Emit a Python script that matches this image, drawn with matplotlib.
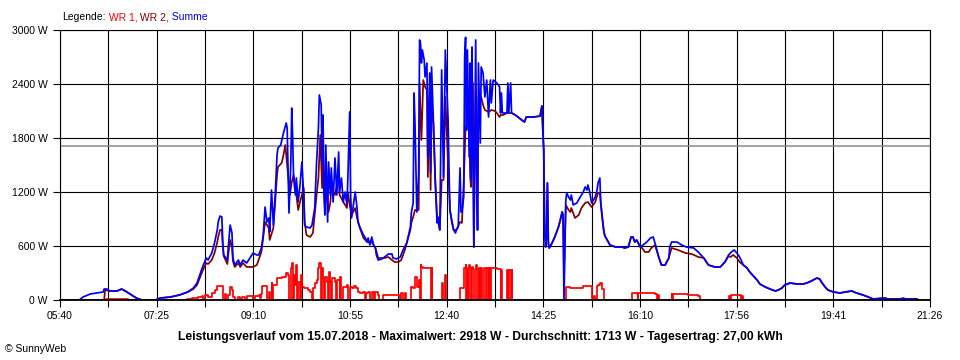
import matplotlib
matplotlib.use("Agg")
import matplotlib.pyplot as plt
import numpy as np

plt.rcParams['font.family'] = ['Liberation Sans', 'DejaVu Sans']

# ---------------- data (time in minutes since midnight, power in W) ----------------
T_START = 340    # 05:40
T_END = 1286     # 21:26
X_LABELS = ["05:40", "07:25", "09:10", "10:55", "12:40", "14:25", "16:10", "17:56", "19:41", "21:26"]
Y_TICKS = [0, 600, 1200, 1800, 2400, 3000]
AVERAGE_W = 1713
TITLE = ("Leistungsverlauf vom 15.07.2018 - Maximalwert: 2918 W - "
         "Durchschnitt: 1713 W - Tagesertrag: 27,00 kWh")
LEGEND_ITEMS = [(" WR 1,", '#ff0000'), (" WR 2,", '#800000'), (" Summe", '#0000ff')]

SUMME = [
    (340, 0), (361, 0), (365, 33), (373, 67), (380, 78), (387, 89), (388, 122), (391, 122), (394, 100),
    (402, 100), (407, 122), (411, 100), (416, 67), (423, 22), (429, 0),
    (444, 0), (449, 22), (460, 33), (470, 56), (479, 89), (485, 133), (489, 189), (492, 278), (495, 367),
    (499, 467), (501, 444), (505, 522), (508, 633), (511, 778), (512, 867), (514, 933), (516, 922),
    (517, 633), (518, 500), (522, 444), (523, 589), (525, 833), (527, 744), (528, 467), (530, 389),
    (534, 444), (536, 389), (539, 444), (543, 411), (550, 522), (554, 500),
    (556, 500), (559, 578), (561, 722), (563, 1033), (565, 867), (567, 911), (568, 756), (570, 1222),
    (572, 833), (574, 1167), (576, 1611), (577, 1689), (580, 1722), (583, 1856), (586, 1967), (587, 1911),
    (589, 967), (591, 1533), (592, 2133), (593, 1800), (594, 1356), (596, 1167), (597, 1356), (599, 1089),
    (601, 1278), (603, 1533), (605, 1167), (606, 833), (608, 811), (612, 800), (614, 833), (617, 1022),
    (619, 1533), (621, 1911), (622, 2278), (624, 2167), (625, 1533), (626, 2056), (627, 1167), (628, 944),
    (629, 1722), (631, 867), (632, 1533), (634, 1167), (635, 1467), (637, 1089), (639, 1578), (641, 1167),
    (643, 1644), (644, 1200), (646, 1356), (648, 1089), (650, 1200), (652, 1056), (653, 1356), (655, 2089),
    (656, 1167), (657, 911), (659, 1056), (661, 1200), (663, 1022), (664, 867), (666, 811), (670, 722),
    (672, 689), (674, 644), (675, 689), (677, 611), (679, 700), (681, 611), (683, 578), (684, 500),
    (686, 444),
    (690, 456), (693, 478), (697, 511), (701, 511), (702, 467), (706, 456), (710, 478), (713, 556),
    (717, 633), (721, 811), (722, 967), (724, 1078), (725, 2300), (726, 1967), (728, 978), (730, 1411),
    (731, 2889), (732, 2856), (733, 2633), (734, 2778), (736, 2667), (737, 2478), (739, 2633), (740, 1589),
    (742, 2522), (743, 1411), (744, 2589), (746, 2000), (748, 1333), (750, 856), (751, 922), (753, 778),
    (755, 2556), (757, 1367), (759, 2778), (760, 2522), (762, 2000), (763, 1444), (764, 1000), (766, 867),
    (768, 778), (770, 744), (771, 778), (773, 811), (775, 1467), (776, 978), (777, 978), (779, 1144),
    (780, 2700), (781, 2918), (782, 1889), (783, 2778), (785, 1589), (786, 2633), (787, 1333), (788, 2811),
    (789, 1778), (790, 589), (792, 2889), (793, 1522), (794, 778), (795, 2633), (797, 1744), (798, 2589),
    (800, 2522), (802, 2256), (804, 2444), (806, 2033), (808, 2444), (809, 2189), (811, 2444), (815, 2411),
    (818, 2367), (819, 2078), (820, 2300), (821, 2078), (826, 2078), (827, 2411), (828, 2078), (830, 2411),
    (831, 2078), (835, 2056), (838, 2033), (842, 2000), (845, 1978), (847, 2033), (855, 2033), (862, 2044),
    (864, 2156), (865, 1889), (866, 1667), (867, 778), (868, 589), (869, 700), (870, 1300), (871, 633),
    (872, 578), (875, 633), (878, 700), (882, 811), (884, 889), (886, 978), (887, 944), (888, 0),
    (890, 1111), (891, 1189), (893, 1144), (895, 1111), (896, 1167), (898, 1056), (902, 1078), (905, 1133),
    (909, 1200), (911, 1256), (913, 1222), (914, 1278), (916, 1200), (918, 1078), (920, 1111), (922, 1144),
    (924, 1222), (925, 1300), (927, 1356), (928, 1078), (930, 889), (932, 722), (935, 667), (938, 611),
    (944, 589), (951, 589), (954, 578), (958, 589), (961, 700), (963, 700), (965, 644), (967, 667),
    (971, 589), (974, 611), (978, 644), (982, 689), (985, 700), (987, 633), (991, 478), (994, 389),
    (998, 389), (1002, 467), (1003, 589), (1005, 644), (1011, 644), (1016, 611), (1021, 589), (1029, 578),
    (1034, 533), (1040, 467), (1045, 389), (1052, 367), (1058, 367), (1063, 422), (1067, 500), (1070, 533),
    (1073, 556), (1076, 522), (1079, 478), (1083, 389), (1087, 356), (1090, 311), (1094, 267), (1098, 222),
    (1101, 178), (1107, 144), (1112, 122), (1118, 100), (1121, 111), (1125, 133), (1128, 167), (1134, 189),
    (1141, 178), (1148, 178), (1152, 189), (1157, 211), (1163, 244), (1166, 233), (1168, 200), (1172, 144),
    (1175, 111), (1181, 89), (1188, 78), (1194, 89), (1201, 100), (1206, 78), (1213, 56), (1219, 33),
    (1224, 11), (1237, 22), (1240, 11), (1253, 11), (1257, 22), (1259, 11), (1272, 11), (1273, 0),
]

WR2 = [
    (340, 0), (388, 0), (389, 111), (394, 100), (402, 100), (407, 122), (411, 100), (416, 67), (423, 22),
    (429, 0),
    (444, 0), (449, 22), (460, 33), (470, 56), (479, 89), (485, 122), (489, 167), (492, 244), (495, 322),
    (499, 411), (501, 400), (505, 444), (508, 522), (511, 644), (512, 700), (514, 778), (516, 778),
    (517, 600), (518, 489), (522, 400), (523, 511), (525, 667), (527, 589), (528, 433), (530, 367),
    (534, 411), (536, 367), (539, 411), (543, 367), (550, 367), (554, 389),
    (559, 533), (563, 867), (567, 800), (568, 667), (572, 800), (576, 1389), (577, 1478), (581, 1522),
    (583, 1611), (585, 1722), (588, 1389), (590, 1167), (592, 1311), (594, 1389), (596, 1278), (597, 1167),
    (599, 1000), (601, 1089), (605, 1244), (606, 867), (608, 722), (612, 700), (615, 744), (619, 1167),
    (621, 1356), (623, 1833), (625, 1244), (626, 1533), (628, 1056), (630, 1200), (632, 978), (634, 1089),
    (635, 1244), (639, 1167), (643, 1389), (644, 1167), (648, 1089), (652, 1022), (653, 1200), (655, 1056),
    (657, 944), (661, 1022), (663, 911), (666, 800), (670, 689), (674, 644), (679, 644), (683, 578),
    (686, 467),
    (693, 467), (697, 478), (701, 444), (704, 422), (708, 422), (711, 444), (715, 556), (721, 778),
    (722, 856), (724, 922), (726, 1000), (730, 1000), (731, 2411), (733, 1778), (735, 2444), (737, 2367),
    (739, 2333), (740, 1367), (742, 2256), (743, 1222), (744, 2144), (746, 1967), (748, 1333), (750, 922),
    (753, 778), (755, 1333), (757, 1333), (759, 2256), (760, 2000), (764, 1000), (768, 778), (771, 778),
    (775, 867), (777, 856), (779, 1300), (781, 1922), (782, 1889), (784, 2333), (786, 1367), (787, 1256),
    (789, 2411), (790, 589), (792, 2333), (794, 778), (795, 2256), (798, 2256), (800, 2167), (802, 2111),
    (806, 2089), (809, 2111), (813, 2100), (815, 2078), (818, 2033), (819, 2056), (822, 2056), (826, 2078),
    (831, 2078),
    (835, 2056), (838, 2033), (842, 2000), (845, 1978), (847, 2033), (855, 2033), (862, 2044), (864, 2156),
    (865, 1889), (866, 1667), (867, 778), (868, 589), (869, 700), (870, 1300), (871, 633), (872, 578),
    (875, 633), (878, 700), (882, 811), (884, 889), (886, 978), (887, 944), (888, 300), (890, 1056),
    (893, 1000), (895, 978), (896, 1022), (900, 911), (904, 944), (907, 1022), (911, 1078), (914, 1089),
    (918, 1033), (922, 1089), (925, 1189), (927, 1189), (929, 967), (931, 778), (933, 700), (935, 667),
    (938, 611), (944, 589), (951, 589), (954, 578), (958, 589), (961, 700), (963, 700), (965, 644),
    (967, 667), (971, 589), (973, 578), (976, 533), (980, 533), (983, 578), (987, 611), (991, 478),
    (994, 389), (998, 389), (1002, 467), (1005, 578), (1012, 556), (1020, 522), (1027, 511), (1034, 478),
    (1040, 467), (1045, 389), (1052, 367), (1058, 367), (1063, 422), (1067, 489), (1069, 478), (1072, 500),
    (1076, 467), (1079, 422), (1083, 389), (1087, 356), (1090, 311), (1094, 267), (1098, 222), (1101, 178),
    (1107, 144), (1112, 122), (1118, 100), (1121, 111), (1125, 133), (1128, 167), (1134, 189), (1141, 178),
    (1148, 178), (1152, 189), (1157, 211), (1163, 244), (1166, 233), (1168, 200), (1172, 144), (1175, 111),
    (1181, 89), (1188, 78), (1194, 89), (1201, 100), (1206, 78), (1213, 56), (1219, 33), (1224, 11),
    (1237, 22), (1240, 11), (1272, 11), (1273, 0),
]

WR1 = [
    (340, 0), (389, 0), (390, 11), (413, 11), (414, 0),
    (477, 0), (478, 11), (483, 22), (490, 33), (494, 44), (496, 0), (498, 56), (501, 33), (505, 78),
    (509, 111), (511, 156), (516, 156), (517, 0), (519, 67), (521, 0), (523, 56), (525, 144), (527, 111),
    (528, 33), (530, 0), (534, 33), (536, 0), (538, 33), (541, 0), (543, 44), (548, 44), (550, 0),
    (552, 44),
    (556, 56), (558, 22), (559, 67), (560, 156), (564, 156), (565, 0), (567, 89), (568, 0), (570, 189),
    (571, 0), (572, 167), (576, 248), (581, 259), (586, 296), (588, 278), (589, 0), (591, 352), (592, 407),
    (593, 0), (594, 278), (596, 167), (597, 389), (598, 0), (599, 204), (601, 0), (602, 278), (603, 148),
    (605, 137), (610, 111), (612, 93), (614, 0), (615, 130), (617, 185), (619, 222), (621, 352), (622, 407),
    (624, 0), (625, 352), (626, 241), (627, 0), (628, 259), (630, 204), (631, 0), (632, 315), (634, 204),
    (635, 0), (636, 241), (639, 204), (640, 0), (641, 222), (644, 0), (645, 259), (646, 0), (648, 148),
    (652, 167), (653, 0), (655, 148), (657, 130), (660, 156), (662, 130), (664, 93), (666, 74), (670, 93),
    (672, 0), (673, 74), (675, 93), (677, 0), (679, 93), (681, 0), (683, 85), (686, 56), (687, 0),
    (691, 56), (708, 56), (710, 0), (711, 78), (713, 0), (715, 78), (716, 0), (722, 148), (724, 137),
    (726, 259), (728, 148), (730, 222), (731, 0), (732, 389), (733, 370), (735, 361), (740, 361), (742, 352),
    (743, 0), (744, 352), (745, 0), (755, 185), (757, 0), (759, 278), (760, 0), (775, 130), (779, 352),
    (781, 389), (782, 0), (783, 352), (784, 0), (785, 389), (786, 352), (787, 0), (788, 370), (789, 344),
    (790, 0), (792, 389), (793, 344), (794, 0), (796, 361), (797, 0), (798, 352), (799, 0), (801, 352),
    (803, 0), (804, 352), (806, 0), (807, 352), (808, 0), (809, 352), (815, 344), (818, 344), (819, 0),
    (820, 333), (821, 0), (826, 333), (827, 0), (828, 333), (830, 0), (831, 333), (832, 0),
    (889, 0), (890, 144), (895, 133), (903, 133), (909, 156), (916, 156), (918, 0), (921, 44), (922, 0),
    (924, 156), (925, 167), (927, 189), (929, 122), (931, 111), (932, 0),
    (961, 0), (962, 78), (967, 67), (968, 0), (969, 78), (983, 78), (987, 67), (989, 0), (990, 56),
    (991, 0),
    (1004, 0), (1005, 67), (1006, 0), (1007, 67), (1016, 67), (1023, 56), (1034, 44), (1036, 0),
    (1066, 0), (1067, 44), (1069, 0), (1070, 56), (1079, 56), (1081, 0), (1082, 44), (1083, 0), (1286, 0),
]

# ---------------- figure ----------------
W_PX, H_PX = 960, 360
fig = plt.figure(figsize=(W_PX / 100, H_PX / 100), dpi=100)
fig.patch.set_facecolor('white')
ax = fig.add_axes([60 / W_PX, 60 / H_PX, 870 / W_PX, 270 / H_PX])

FS = 7.5
ax.set_xlim(T_START, T_END)
ax.set_ylim(0, 3000)

major = np.linspace(T_START, T_END, len(X_LABELS))
minor = np.linspace(T_START, T_END, 2 * len(X_LABELS) - 1)
ax.set_xticks(major)
ax.set_xticklabels(X_LABELS)
ax.set_xticks(minor, minor=True)
ax.set_yticks(Y_TICKS)
ax.set_yticklabels([f"{v} W" for v in Y_TICKS])

ax.tick_params(axis='both', which='both', direction='out', length=5, width=0.8,
               color='black', labelsize=FS, labelcolor='black')
ax.tick_params(axis='x', which='both', pad=3)
ax.tick_params(axis='y', which='both', pad=4)

ax.set_axisbelow(True)
ax.grid(which='both', axis='x', color='black', lw=0.8)
ax.grid(which='major', axis='y', color='black', lw=0.8)

for s in ax.spines.values():
    s.set_color('black')
    s.set_linewidth(0.8)
ax.spines['bottom'].set_linewidth(1.3)
ax.spines['bottom'].set_zorder(6)

ax.axhline(AVERAGE_W, color='#8a8a8a', lw=1.1, zorder=1)

t1, w1 = zip(*WR1)
t2, w2 = zip(*WR2)
ts, ws = zip(*SUMME)
ax.plot(t1, w1, color='#ff0000', lw=1.25, drawstyle='steps-post', zorder=2)
ax.plot(t2, w2, color='#800000', lw=1.25, zorder=3)
ax.plot(ts, ws, color='#0000ff', lw=1.25, zorder=4)

# legend line on top (chained coloured texts)
last = fig.text(62 / W_PX, 1 - 17 / H_PX, "Legende:", fontsize=FS, color='black', va='center')
for txt, col in LEGEND_ITEMS:
    last = ax.annotate(txt, xy=(1, 0), xycoords=last, va='bottom', ha='left',
                       fontsize=FS, color=col, annotation_clip=False)

fig.text(0.5, 1 - 337 / H_PX, TITLE, ha='center', va='center', fontsize=8.7, fontweight='bold')
fig.text(5 / W_PX, 1 - 349 / H_PX, "\u00a9 SunnyWeb", ha='left', va='center', fontsize=FS)

fig.savefig("out.png", dpi=100, facecolor='white')
